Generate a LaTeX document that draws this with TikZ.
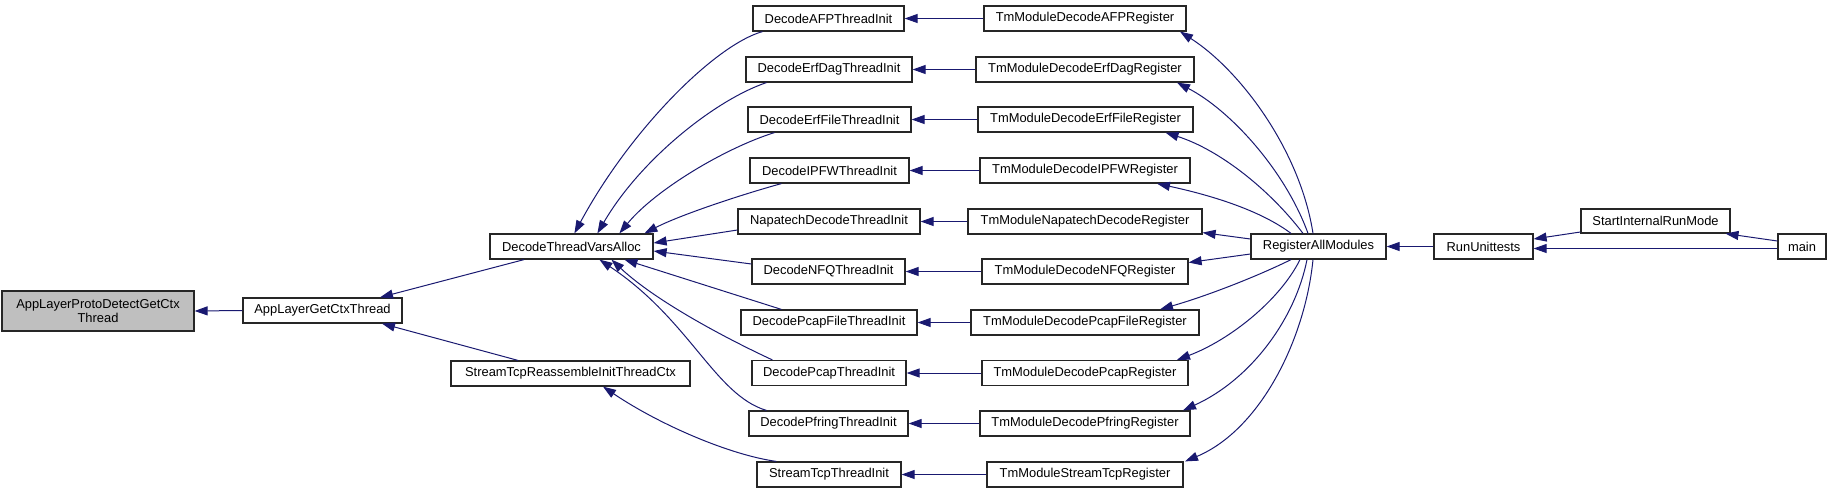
\documentclass[tikz,border=0pt]{standalone}
\usepackage{fontspec}
\setmainfont{Liberation Sans}
\usetikzlibrary{arrows.meta}
\definecolor{edgec}{HTML}{191970}
\definecolor{curfill}{HTML}{BFBFBF}
\tikzset{
  fn/.style={draw=black!85, line width=1.2pt, rectangle, inner sep=0pt, minimum height=25pt, font=\fontsize{12.9}{14.5}\selectfont, align=center},
  cur/.style={fn, fill=curfill, minimum height=40pt},
  call/.style={draw=edgec, line width=1pt, -{Triangle[length=13pt,width=9pt]}},
}
\begin{document}
\begin{tikzpicture}[x=1pt,y=-1pt]
\useasboundingbox (0,0) rectangle (1835,493);
% column 0-2
\node[cur, minimum width=192pt] (alp) at (98,311) {AppLayerProtoDetectGetCtx\\Thread};
\node[fn, minimum width=159pt] (algct) at (322.5,310.5) {AppLayerGetCtxThread};
\node[fn, minimum width=163pt] (dtva) at (571.5,246.5) {DecodeThreadVarsAlloc};
\node[fn, minimum width=239pt] (stritc) at (570.5,373.5) {StreamTcpReassembleInitThreadCtx};
% column 3
\node[fn, minimum width=151pt] (dafp) at (828.5,18.5) {DecodeAFPThreadInit};
\node[fn, minimum width=166pt] (derfdag) at (829,69.5) {DecodeErfDagThreadInit};
\node[fn, minimum width=163pt] (derffile) at (829.5,119.5) {DecodeErfFileThreadInit};
\node[fn, minimum width=159pt] (dipfw) at (829.5,170.5) {DecodeIPFWThreadInit};
\node[fn, minimum width=182pt] (dnapa) at (829,221.5) {NapatechDecodeThreadInit};
\node[fn, minimum width=153pt] (dnfq) at (828.5,271.5) {DecodeNFQThreadInit};
\node[fn, minimum width=176pt] (dpcapfile) at (829,322.5) {DecodePcapFileThreadInit};
\node[fn, minimum width=154pt] (dpcap) at (829,373) {DecodePcapThreadInit};
\node[fn, minimum width=159pt] (dpfring) at (828.5,423.5) {DecodePfringThreadInit};
\node[fn, minimum width=144pt] (stti) at (829,474.5) {StreamTcpThreadInit};
% column 4
\node[fn, minimum width=202pt] (tafp) at (1085,18.5) {TmModuleDecodeAFPRegister};
\node[fn, minimum width=218pt] (terfdag) at (1085,69.5) {TmModuleDecodeErfDagRegister};
\node[fn, minimum width=215pt] (terffile) at (1085.5,119.5) {TmModuleDecodeErfFileRegister};
\node[fn, minimum width=210pt] (tipfw) at (1085,170.5) {TmModuleDecodeIPFWRegister};
\node[fn, minimum width=234pt] (tnapa) at (1085,221.5) {TmModuleNapatechDecodeRegister};
\node[fn, minimum width=206pt] (tnfq) at (1085,271.5) {TmModuleDecodeNFQRegister};
\node[fn, minimum width=228pt] (tpcapfile) at (1085,322.5) {TmModuleDecodePcapFileRegister};
\node[fn, minimum width=206pt] (tpcap) at (1085,373) {TmModuleDecodePcapRegister};
\node[fn, minimum width=210pt] (tpfring) at (1085,423.5) {TmModuleDecodePfringRegister};
\node[fn, minimum width=196pt] (tstcp) at (1085,474.5) {TmModuleStreamTcpRegister};
% right part
\node[fn, minimum width=135pt] (ram) at (1318.5,246.5) {RegisterAllModules};
\node[fn, minimum width=99pt] (rut) at (1483.5,246.5) {RunUnittests};
\node[fn, minimum width=149pt, minimum height=24pt] (sirm) at (1655.5,221) {StartInternalRunMode};
\node[fn, minimum width=48pt] (main) at (1802,246.5) {main};

% edges, left part
\draw[call] (algct.west) -- (alp.east);
\draw[call] ([xshift=-47.5pt]dtva.south) -- ([xshift=57.5pt]algct.north);
\draw[call] ([xshift=-52.5pt]stritc.north) -- ([xshift=59.5pt]algct.south);
\draw[call] ([xshift=20pt]stti.north west) .. controls (730,455) and (660,425) .. ([xshift=32.5pt]stritc.south);
% decode -> dtva
\draw[call] ([xshift=10pt]dafp.south west) .. controls (715,45) and (630,130) .. ([xshift=85pt]dtva.north west);
\draw[call] ([xshift=21pt]derfdag.south west) .. controls (715,100) and (640,160) .. ([xshift=108pt]dtva.north west);
\draw[call] ([xshift=27pt]derffile.south west) .. controls (725,148) and (655,190) .. ([xshift=130pt]dtva.north west);
\draw[call] ([xshift=32pt]dipfw.south west) .. controls (740,195) and (680,215) .. ([xshift=155pt]dtva.north west);
\draw[call] ([yshift=-8.5pt]dnapa.west) -- ([yshift=3.5pt]dtva.east);
\draw[call] ([yshift=7.5pt]dnfq.west) -- ([yshift=-4.5pt]dtva.east);
\draw[call] ([xshift=41pt]dpcapfile.north west) -- ([xshift=135pt]dtva.south west);
\draw[call] ([xshift=21pt]dpcap.north west) .. controls (740,345) and (660,305) .. ([xshift=122pt]dtva.south west);
\draw[call] ([xshift=18pt]dpfring.north west) .. controls (715,395) and (690,320) .. ([xshift=110pt]dtva.south west);
% register -> decode
\draw[call] (tafp.west) -- (dafp.east);
\draw[call] (terfdag.west) -- (derfdag.east);
\draw[call] (terffile.west) -- (derffile.east);
\draw[call] (tipfw.west) -- (dipfw.east);
\draw[call] (tnapa.west) -- (dnapa.east);
\draw[call] (tnfq.west) -- (dnfq.east);
\draw[call] (tpcapfile.west) -- (dpcapfile.east);
\draw[call] (tpcap.west) -- (dpcap.east);
\draw[call] (tpfring.west) -- (dpfring.east);
\draw[call] (tstcp.west) -- (stti.east);
% RegisterAllModules -> registers
\draw[call] ([xshift=-5.5pt]ram.north) .. controls (1300,150) and (1240,70) .. ([xshift=95pt]tafp.south);
\draw[call] ([xshift=-10.5pt]ram.north) .. controls (1285,170) and (1230,110) .. ([xshift=92pt]terfdag.south);
\draw[call] ([xshift=-15.5pt]ram.north) .. controls (1270,190) and (1220,150) .. ([xshift=80pt]terffile.south);
\draw[call] ([xshift=-27.5pt]ram.north) .. controls (1260,210) and (1210,195) .. ([xshift=72pt]tipfw.south);
\draw[call] ([yshift=7.5pt]ram.west) -- ([yshift=2pt]tnapa.south east);
\draw[call] ([yshift=-7.5pt]ram.west) -- ([yshift=9pt]tnfq.east);
\draw[call] ([xshift=-27.5pt]ram.south) .. controls (1260,275) and (1210,295) .. ([xshift=75pt]tpcapfile.north);
\draw[call] ([xshift=-18.5pt]ram.south) .. controls (1280,300) and (1230,340) .. ([xshift=92pt]tpcap.north);
\draw[call] ([xshift=-11.5pt]ram.south) .. controls (1295,320) and (1250,380) .. ([xshift=98pt]tpfring.north);
\draw[call] ([xshift=-5.5pt]ram.south) .. controls (1305,340) and (1260,430) .. ([xshift=100pt]tstcp.north);
% right
\draw[call] (rut.west) -- (ram.east);
\draw[call] ([yshift=-11pt]sirm.west) -- ([yshift=7.5pt]rut.east);
\draw[call] ([yshift=5.5pt]main.west) -- ([xshift=70pt]sirm.south);
\draw[call] ([yshift=-2pt]main.west) -- ([yshift=-2pt]rut.east);
\end{tikzpicture}
\end{document}
